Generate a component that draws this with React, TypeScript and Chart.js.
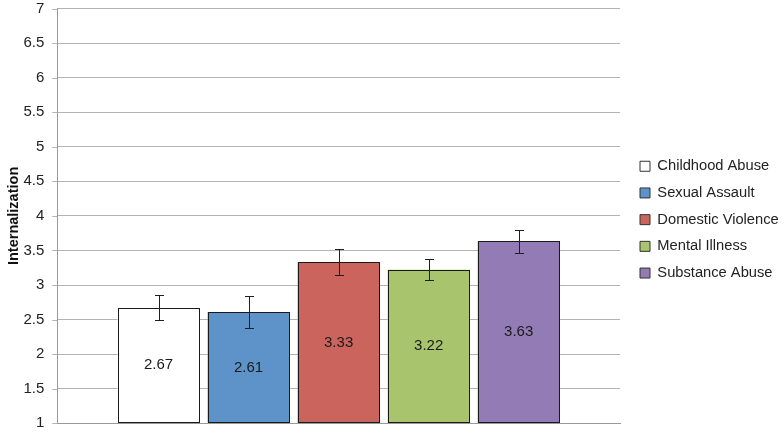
import React, { useEffect, useRef } from "react";
import { Chart, registerables } from "chart.js";

Chart.register(...registerables);

const categories = ["Childhood Abuse", "Sexual Assault", "Domestic Violence", "Mental Illness", "Substance Abuse"];
const means = [2.67, 2.61, 3.33, 3.22, 3.63];
const errors = [0.18, 0.23, 0.19, 0.15, 0.16];
const colors = ["#FFFFFF", "#5D93C9", "#CC645E", "#A8C46C", "#937CB5"];
const valueLabels = ["2.67", "2.61", "3.33", "3.22", "3.63"];
const yTitle = "Internalization";
const yMin = 1;
const yMax = 7;
const yStep = 0.5;

const FONT = "'Liberation Sans', Arial, Helvetica, sans-serif";

export default function App() {
  const ref = useRef<HTMLCanvasElement | null>(null);

  useEffect(() => {
    const canvas = ref.current;
    if (!canvas) return;

    const overlay = {
      id: "overlay",
      afterInit(chart: any) {
        const legend = chart.legend;
        if (!legend || legend.__patched) return;
        legend.__patched = true;
        const origFit = legend.fit.bind(legend);
        legend.fit = function () {
          origFit();
          this.width = 164;
        };
        const origDraw = legend.draw.bind(legend);
        legend.draw = function () {
          const l = this.left;
          const t = this.top;
          const b = this.bottom;
          this.left = l + 8;
          this.top = t + 8;
          this.bottom = b + 8;
          origDraw();
          this.left = l;
          this.top = t;
          this.bottom = b;
        };
      },
      beforeDatasetsDraw(chart: any) {
        const ctx = chart.ctx;
        const ys = chart.scales.y;
        const left = chart.chartArea.left;
        ctx.save();
        ctx.strokeStyle = "#b4b4b4";
        ctx.lineWidth = 1;
        ctx.beginPath();
        ys.ticks.forEach((_t: any, idx: number) => {
          const py = Math.round(ys.getPixelForTick(idx)) + 0.5;
          ctx.moveTo(left - 5, py);
          ctx.lineTo(left, py);
        });
        ctx.stroke();
        ctx.restore();
      },
      afterDatasetsDraw(chart: any) {
        const ctx = chart.ctx;
        const y = chart.scales.y;
        ctx.save();
        chart.data.datasets.forEach((ds: any, i: number) => {
          const meta = chart.getDatasetMeta(i);
          const bar = meta.data[0];
          if (!bar) return;
          const x = bar.x;
          // crisp bar outline
          const x0 = Math.round(bar.x - bar.width / 2) + 0.5;
          const x1 = Math.round(bar.x + bar.width / 2) - 0.5;
          const y0 = Math.round(bar.y) + 0.5;
          const y1 = Math.round(bar.base) - 0.5;
          ctx.strokeStyle = "#1a1a1a";
          ctx.lineWidth = 1;
          ctx.strokeRect(x0, y0, x1 - x0, y1 - y0);
          // value label
          const mid = (bar.y + bar.base) / 2;
          ctx.fillStyle = "#1a1a1a";
          ctx.font = `15px ${FONT}`;
          ctx.textAlign = "center";
          ctx.textBaseline = "middle";
          ctx.fillText(valueLabels[i], x, mid);
          // error bar
          const v = ds.data[0];
          const e = errors[i];
          const yTop = Math.round(y.getPixelForValue(v + e)) + 0.5;
          const yBot = Math.round(y.getPixelForValue(v - e)) + 0.5;
          const cx = Math.round(x) + 0.5;
          ctx.strokeStyle = "#1e1e1e";
          ctx.beginPath();
          ctx.moveTo(cx, yTop);
          ctx.lineTo(cx, yBot);
          ctx.moveTo(cx - 4.5, yTop);
          ctx.lineTo(cx + 4.5, yTop);
          ctx.moveTo(cx - 4.5, yBot);
          ctx.lineTo(cx + 4.5, yBot);
          ctx.stroke();
        });
        ctx.restore();
      },
    };

    const chart = new Chart(canvas, {
      type: "bar",
      data: {
        labels: [""],
        datasets: categories.map((c, i) => ({
          label: c,
          data: [means[i]],
          base: yMin,
          backgroundColor: colors[i],
          borderColor: "#1a1a1a",
          borderWidth: 0,
          categoryPercentage: 0.8,
          barPercentage: 0.91,
        })),
      },
      options: {
        responsive: false,
        animation: false,
        devicePixelRatio: 1,
        layout: { padding: { top: 0, bottom: 11.7, left: 0, right: 0 } },
        plugins: {
          tooltip: { enabled: false },
          legend: {
            display: true,
            position: "right",
            align: "center",
            labels: {
              boxWidth: 10,
              boxHeight: 10,
              padding: 12,
              color: "#222222",
              font: { family: FONT, size: 14.7 },
              generateLabels: (ch: any) =>
                Chart.defaults.plugins.legend.labels.generateLabels(ch).map((it: any) => ({
                  ...it,
                  lineWidth: 1,
                  strokeStyle: "#333333",
                })),
            },
          },
        },
        scales: {
          x: {
            ticks: { display: false },
            grid: { display: false, drawTicks: false },
            border: { display: true, color: "#9a9a9a", width: 1 },
          },
          y: {
            min: yMin,
            max: yMax,
            ticks: {
              stepSize: yStep,
              color: "#222222",
              font: { family: FONT, size: 15, lineHeight: 1.0 },
              padding: 1,
              callback: (v: any) => String(v),
            },
            grid: { color: "#b4b4b4", tickLength: 12, drawTicks: true, tickColor: "rgba(0,0,0,0)" },
            border: { display: true, color: "#9a9a9a", width: 1 },
            title: {
              display: true,
              text: yTitle,
              color: "#111111",
              font: { family: FONT, size: 14.5, weight: "bold" },
              padding: { top: 5, bottom: 0 },
            },
          },
        },
      },
      plugins: [overlay],
    });

    return () => chart.destroy();
  }, []);

  return (
    <div style={{ position: "absolute", left: 0, top: 0, width: 784, height: 435, background: "#fff" }}>
      <canvas ref={ref} width={784} height={435} />
    </div>
  );
}
